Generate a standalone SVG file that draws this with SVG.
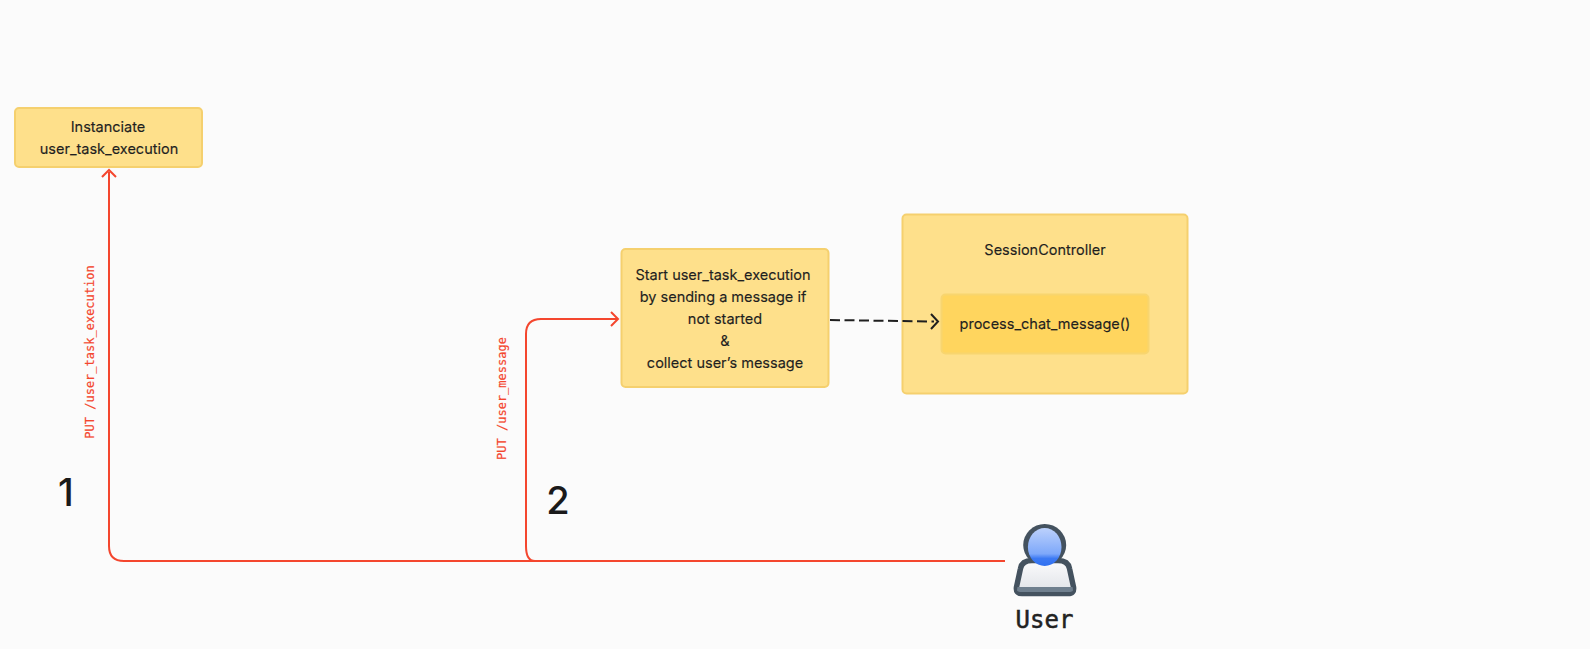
<svg xmlns="http://www.w3.org/2000/svg" width="1590" height="649" viewBox="0 0 1590 649">
<style>
text{font-family:Inter,"Liberation Sans",sans-serif;fill:#1f1f1f;text-anchor:middle}
.n{font-size:14.5px;font-weight:400;stroke:#1f1f1f;stroke-width:.15}
.box{fill:#fee08b;stroke:#f5d06e;stroke-width:2}
.inner{fill:#ffd55e;stroke:#f8d56f;stroke-width:2}
.red{fill:none;stroke:#f4462e;stroke-width:2}
.big{font-size:38px;fill:#1a1a1a;font-weight:500}
.mono{font-family:"DejaVu Sans Mono","Liberation Mono",monospace;font-size:12px;fill:#f4462e;stroke:#f4462e;stroke-width:.2}
</style>
<defs>
<linearGradient id="head" x1="0" y1="0" x2="0" y2="1"><stop offset="0" stop-color="#bcd1fc"/><stop offset="0.68" stop-color="#7ea8fa"/><stop offset="0.8" stop-color="#3d7af3"/><stop offset="1" stop-color="#2f6ff0"/></linearGradient>
<linearGradient id="body" x1="0" y1="0" x2="0" y2="1"><stop offset="0" stop-color="#fbfbfc"/><stop offset="1" stop-color="#dfe2e7"/></linearGradient>
</defs>
<rect width="1590" height="649" fill="#fbfbfb"/>
<g id="instanciate">
<rect class="box" x="15" y="108" width="187" height="59" rx="4"/>
<text class="n" x="108" y="132">Instanciate</text>
<text class="n" x="109" y="154">user_task_execution</text>
</g>
<g id="start">
<rect class="box" x="621.500" y="249" width="207" height="138" rx="4"/>
<text class="n" x="723" y="280">Start user_task_execution</text>
<text class="n" x="723" y="302">by sending a message if</text>
<text class="n" x="725" y="324">not started</text>
<text class="n" x="725" y="346">&amp;</text>
<text class="n" x="725" y="368">collect user’s message</text>
</g>
<g id="session">
<rect class="box" x="902.500" y="214.500" width="285" height="179" rx="4"/>
<text class="n" x="1045" y="255">SessionController</text>
</g>
<g id="process">
<rect class="inner" x="941.500" y="294.500" width="207" height="59" rx="4"/>
<text class="n" x="1045" y="329">process_chat_message()</text>
</g>
<g id="connectors">
<path class="red" d="M109 172V546Q109 561 124 561H1005"/>
<path class="red" d="M102 177L109 170L116 177"/>
<path class="red" d="M535 561Q526 561 526 546V334Q526 319 541 319H617"/>
<path class="red" d="M611 312L618 319L611 326"/>
<path fill="none" stroke="#1f1f1f" stroke-width="2" stroke-dasharray="10 4.500" d="M830 320L934 321.500"/>
<path fill="none" stroke="#1f1f1f" stroke-width="2" d="M931 314L938 321.500L931 329"/>
</g>
<g id="labels">
<text class="mono" transform="translate(94 352) rotate(-90)">PUT /user_task_execution</text>
<text class="mono" transform="translate(506 398.500) rotate(-90)">PUT /user_message</text>
<text class="big" x="66" y="506">1</text>
<text class="big" x="558" y="514">2</text>
</g>
<g id="user">
<ellipse cx="1044.700" cy="545" rx="21.500" ry="21" fill="#44525f"/>
<path d="M1032 560.500Q1022 560.500 1020.500 568.500L1016.500 587Q1015.500 593.500 1022 593.500H1068Q1074.500 593.500 1073.500 587L1069.500 568.500Q1068 560.500 1058 560.500Z" fill="url(#body)" stroke="#44525f" stroke-width="5.500" stroke-linejoin="round"/>
<path d="M1017.500 587H1072.500L1073 590Q1073 592 1068 592H1022Q1017 592 1017 590Z" fill="#6f7f8e"/>
<ellipse cx="1044.700" cy="547" rx="16.800" ry="19" fill="url(#head)"/>
<text x="1044.500" y="628" font-size="24" style="font-family:'DejaVu Sans Mono','Liberation Mono',monospace;fill:#222;stroke:#222;stroke-width:.5">User</text>
</g>
</svg>
